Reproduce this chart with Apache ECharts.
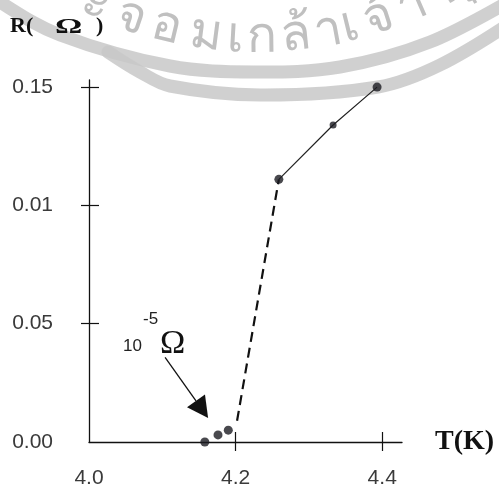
<!DOCTYPE html>
<html>
<head>
<meta charset="utf-8">
<script src="https://cdn.jsdelivr.net/npm/echarts@6/dist/echarts.min.js"></script>
<style>
  html, body { margin: 0; padding: 0; background: #ffffff; }
  #chart { width: 499px; height: 489px; }
</style>
</head>
<body>
<div id="chart"></div>
<script>
// Mercury resistance near the superconducting transition
const superTemps = [4.158, 4.176, 4.190];      // K, below the transition
const superRes = [0.000, 0.003, 0.005];        // ohm
const normalTemps = [4.259, 4.333, 4.393];     // K, normal state
const normalRes = [0.111, 0.134, 0.150];       // ohm
const transitionTemps = [4.202, 4.259];        // K, sharp drop (dashed)
const transitionRes = [0.009, 0.111];          // ohm

const xTickValues = [4.0, 4.2, 4.4];
const xTickLabels = ['4.0', '4.2', '4.4'];
const yTickValues = [0.00, 0.05, 0.10, 0.15];
const yTickLabels = ['0.00', '0.05', '0.01', '0.15'];

// arrow pointing at the residual resistance (start, tip) in T / R units
const arrowTemps = [4.1038, 4.1625];
const arrowRes = [0.0358, 0.0101];

// watermark lettering, one cluster per glyph group
const sealText = ['ะ', 'จ', 'อ', 'ม', 'เ', 'ก', 'ล้', 'า', 'เ', 'จ้', 'า', 'คุ'];

const pair = (xs, ys) => xs.map((x, i) => [x, ys[i]]);

const tickFont = { fontFamily: 'Liberation Sans', fontSize: 21, color: '#3a3a3a' };
const axisLine = { show: true, lineStyle: { color: '#111', width: 1.3 } };

// watermark: two grey ring bands and arced lettering behind the plot
const ringColor = 'rgba(200,200,200,0.85)';
const sealParts = [
  {
    type: 'polyline', z: -10, silent: true,
    shape: { points: [[-15, -12], [0, 2], [60, 35], [170, 66], [255, 72], [340, 67], [430, 42], [515, -2]], smooth: 0.35 },
    style: { stroke: ringColor, lineWidth: 13, fill: null, lineCap: 'round' }
  },
  {
    type: 'polyline', z: -10, silent: true,
    shape: { points: [[108, 52], [140, 72], [170, 86], [260, 95], [378, 87], [440, 65], [515, 20]], smooth: 0.35 },
    style: { stroke: ringColor, lineWidth: 13, fill: null, lineCap: 'round' }
  }
];
const letterX = [90, 126, 163, 204, 234, 262, 298, 331, 354, 383, 418, 460];
const tcx = 257, tcy = -354, tr = 407;
sealText.forEach((ch, i) => {
  const dx = letterX[i] - tcx;
  const ang = Math.asin(dx / tr);
  const rMid = tr - 15;
  sealParts.push({
    type: 'text', z: -9, silent: true,
    x: tcx + rMid * Math.sin(ang),
    y: tcy + rMid * Math.cos(ang),
    rotation: ang,
    style: {
      text: ch, fill: 'rgba(185,185,185,0.9)',
      font: '50px sans-serif',
      align: 'center', verticalAlign: 'middle'
    }
  });
});

const chart = echarts.init(document.getElementById('chart'), null, { renderer: 'canvas' });

chart.setOption({
  animation: false,
  backgroundColor: '#ffffff',
  grid: { left: 89, right: 97, top: 80, bottom: 46, containLabel: false },
  xAxis: [{
    type: 'value', min: 4.0, max: 4.427, position: 'bottom',
    name: 'T(K)', nameLocation: 'end', nameGap: 33,
    nameTextStyle: { fontFamily: 'Liberation Serif', fontWeight: 'bold', fontSize: 28, color: '#111', verticalAlign: 'middle' },
    axisLine: axisLine,
    axisTick: { show: true, inside: false, length: 9, customValues: [4.2, 4.4], lineStyle: { color: '#111', width: 1.2 } },
    axisLabel: { customValues: xTickValues, margin: 26, formatter: v => xTickLabels[xTickValues.findIndex(t => Math.abs(t - v) < 1e-6)], ...tickFont },
    splitLine: { show: false }
  }, {
    type: 'value', min: 4.0, max: 4.427, position: 'bottom', offset: 0,
    axisLine: { show: false },
    axisTick: { show: true, inside: true, length: 10, customValues: [4.2, 4.4], lineStyle: { color: '#111', width: 1.2 } },
    axisLabel: { show: false },
    splitLine: { show: false }
  }],
  yAxis: [{
    type: 'value', min: 0, max: 0.153, position: 'left',
    axisLine: axisLine,
    axisTick: { show: true, inside: false, length: 8, customValues: [0.05, 0.10, 0.15], lineStyle: { color: '#111', width: 1.2 } },
    axisLabel: { customValues: yTickValues, margin: 36, formatter: v => yTickLabels[yTickValues.findIndex(t => Math.abs(t - v) < 1e-6)], ...tickFont },
    splitLine: { show: false }
  }, {
    type: 'value', min: 0, max: 0.153, position: 'left', offset: 0,
    axisLine: { show: false },
    axisTick: { show: true, inside: true, length: 10, customValues: [0.05, 0.10, 0.15], lineStyle: { color: '#111', width: 1.2 } },
    axisLabel: { show: false },
    splitLine: { show: false }
  }],
  graphic: {
    elements: sealParts.concat([
      { type: 'text', left: 10, top: 15, style: { text: 'R(', font: 'bold 22px "Liberation Serif"', fill: '#111' } },
      { type: 'text', x: 55, y: 16, scaleX: 1.55, style: { text: 'Ω', font: 'bold 22px "Liberation Serif"', fill: '#111' } },
      { type: 'text', left: 96, top: 15, style: { text: ')', font: 'bold 22px "Liberation Serif"', fill: '#111' } },
      { type: 'text', x: 123, y: 346, style: { text: '10', font: '17px "Liberation Sans"', fill: '#222', verticalAlign: 'middle' } },
      { type: 'text', x: 143, y: 319, style: { text: '-5', font: '17px "Liberation Sans"', fill: '#222', verticalAlign: 'middle' } },
      { type: 'text', x: 160, y: 344, style: { text: 'Ω', font: '34px "Liberation Serif"', fill: '#111', verticalAlign: 'middle' } }
    ])
  },
  series: [{
    name: 'transition', type: 'line', xAxisIndex: 0, yAxisIndex: 0,
    data: pair(transitionTemps, transitionRes),
    symbol: 'none', lineStyle: { color: '#111', width: 2.2, type: [10, 6] }, z: 3
  }, {
    name: 'normal', type: 'line', xAxisIndex: 0, yAxisIndex: 0,
    data: pair(normalTemps, normalRes),
    symbol: 'none', lineStyle: { color: '#222', width: 1.2 }, z: 3
  }, {
    name: 'measured', type: 'scatter', xAxisIndex: 0, yAxisIndex: 0,
    data: pair(superTemps, superRes).concat(pair(normalTemps, normalRes)),
    symbol: 'circle', symbolSize: (v, p) => (p.dataIndex === 4 ? 7 : 9),
    itemStyle: { color: '#1c1c22' }, z: 4
  }, {
    name: 'arrow', type: 'custom', xAxisIndex: 0, yAxisIndex: 0,
    data: [[arrowTemps[0], arrowRes[0], arrowTemps[1], arrowRes[1]]],
    renderItem: (params, api) => {
      const a = api.coord([api.value(0), api.value(1)]);
      const b = api.coord([api.value(2), api.value(3)]);
      const dx = b[0] - a[0], dy = b[1] - a[1];
      const len = Math.sqrt(dx * dx + dy * dy);
      const ux = dx / len, uy = dy / len;
      const headLen = 21, headHalf = 11;
      const base = [b[0] - ux * headLen, b[1] - uy * headLen];
      return {
        type: 'group',
        children: [{
          type: 'line',
          shape: { x1: a[0], y1: a[1], x2: base[0], y2: base[1] },
          style: { stroke: '#111', lineWidth: 1.3 }
        }, {
          type: 'polygon',
          shape: { points: [b, [base[0] - uy * headHalf, base[1] + ux * headHalf], [base[0] + uy * headHalf, base[1] - ux * headHalf]] },
          style: { fill: '#111' }
        }]
      };
    },
    z: 4
  }]
});
</script>
</body>
</html>
